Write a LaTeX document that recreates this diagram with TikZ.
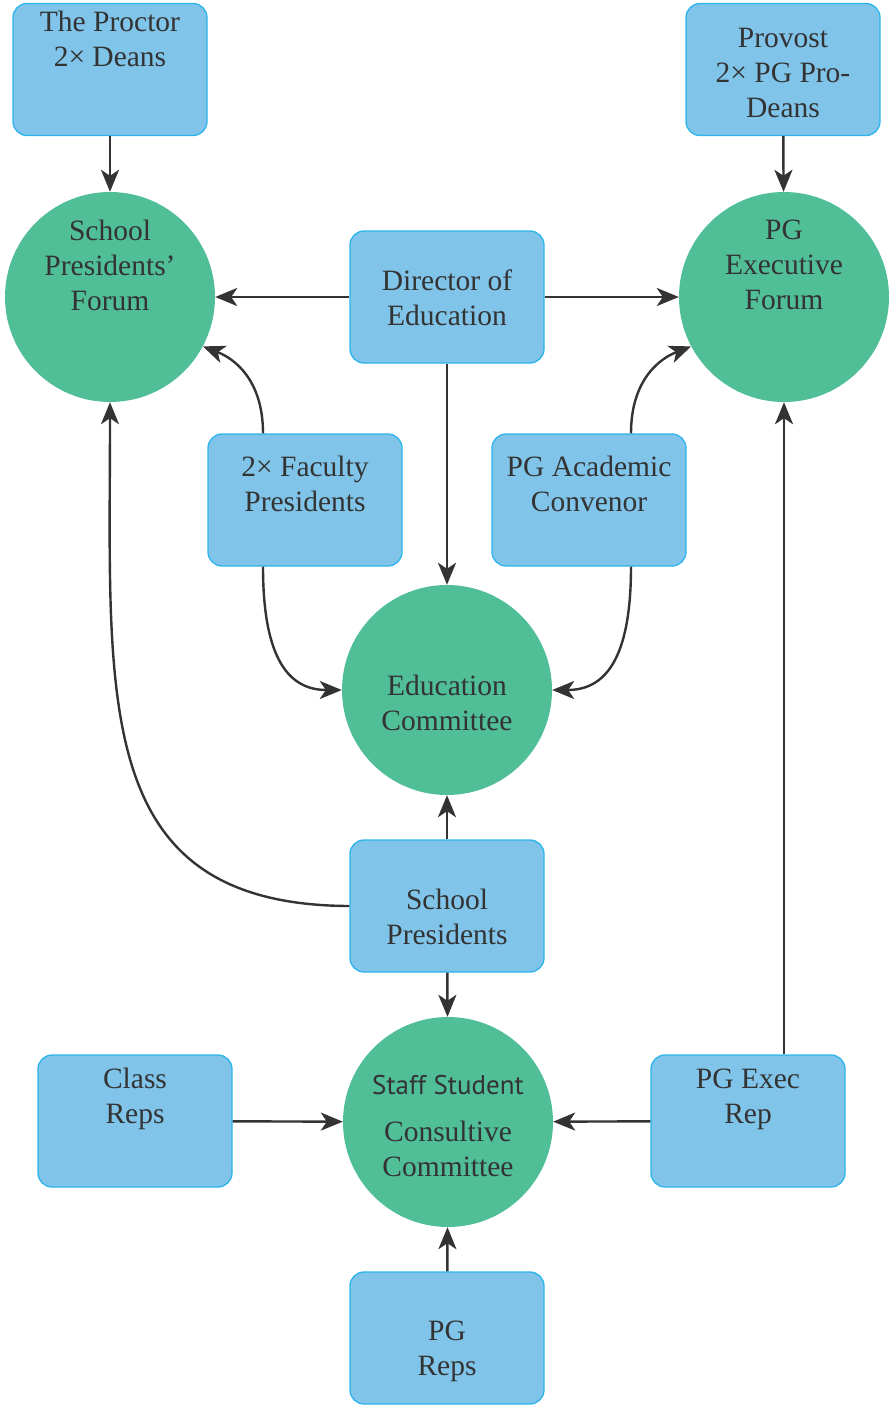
\documentclass[tikz,border=0pt]{standalone}
\usepackage{fontspec}
\setmainfont{Liberation Serif}
\newfontfamily\sansf{PT Sans}
\usetikzlibrary{arrows.meta}
\definecolor{boxfill}{HTML}{80C4E9}
\definecolor{boxline}{HTML}{2DB4EC}
\definecolor{circfill}{HTML}{50BE96}
\definecolor{ink}{HTML}{333333}
\tikzset{
  boxnode/.style={draw=boxline, line width=1.3pt, fill=boxfill, rounded corners=14pt,
    minimum width=194pt, minimum height=132pt, inner sep=0pt},
  circnode/.style={circle, fill=circfill, minimum size=210pt, inner sep=0pt},
  txt/.style={align=center, text=ink, font=\fontsize{29.5}{35}\selectfont, inner sep=0pt},
  conn/.style={draw=ink, line width=2.4pt, -{Stealth[length=22pt,width=18pt,inset=6pt]}}
}
\begin{document}
\begin{tikzpicture}[x=1pt,y=-1pt]
\useasboundingbox[fill=white] (0,0) rectangle (890,1405);
% boxes
\node[boxnode] (proctor) at (110,69.5) {};
\node[boxnode] (provost) at (783,69.5) {};
\node[boxnode] (dir) at (447,297) {};
\node[boxnode] (fac) at (305,500) {};
\node[boxnode] (pgac) at (589,500) {};
\node[boxnode] (sp) at (447,906) {};
\node[boxnode] (class) at (135,1121) {};
\node[boxnode] (pgexec) at (748,1121) {};
\node[boxnode] (pgreps) at (447,1338) {};
% circles
\node[circnode] (sforum) at (110,297) {};
\node[circnode] (pgforum) at (784,297) {};
\node[circnode] (edu) at (447,690) {};
\node[circnode] (sscc) at (448,1122) {};
% texts
\node[txt] (tproctor) at (110,38.5) {The Proctor\\2× Deans};
\node[txt] (tprovost) at (783,73) {Provost\\2× PG Pro-\\Deans};
\node[txt] (tdir) at (447,298) {Director of\\Education};
\node[txt] (tfac) at (305,484) {2× Faculty\\Presidents};
\node[txt] (tpgac) at (589,484) {PG Academic\\Convenor};
\node[txt] (tsp) at (447,917) {School\\Presidents};
\node[txt] (tclass) at (135,1099) {Class\\Reps};
\node[txt] (tpgexec) at (748,1099) {PG Exec\\Rep};
\node[txt] (tpgreps) at (447,1351) {PG\\Reps};
\node[txt] (tsforum) at (110,265) {School\\Presidents’\\Forum};
\node[txt] (tpgforum) at (784,265) {PG\\Executive\\Forum};
\node[txt] (tedu) at (447,703) {Education\\Committee};
\node[txt, font=\sansf\fontsize{27}{35}\selectfont] (tstaff) at (448,1085) {Staff Student};
\node[txt] (tcons) at (448,1149) {Consultive\\Committee};
% connectors
\draw[conn] (proctor) -- (sforum);
\draw[conn] (provost) -- (pgforum);
\draw[conn] (dir) -- (sforum);
\draw[conn] (dir) -- (pgforum);
\draw[conn] (dir) -- (edu);
\draw[conn] ([xshift=-42pt]fac.north) .. controls +(0,-54) and +(31,12) .. (sforum.-28);
\draw[conn] ([xshift=-42pt]fac.south) .. controls +(0,94) and +(-52,0) .. (edu.west);
\draw[conn] ([xshift=42pt]pgac.north) .. controls +(0,-54) and +(-31,12) .. (pgforum.208);
\draw[conn] ([xshift=42pt]pgac.south) .. controls +(0,94) and +(52,0) .. (edu.east);
\draw[conn] (sp) -- (edu);
\draw[conn] (sp.west) .. controls (90,905) and (110,700) .. (sforum.south);
\draw[conn] (sp) -- (sscc);
\draw[conn] (class) -- (sscc);
\draw[conn] (pgexec) -- (sscc);
\draw[conn] ([xshift=36pt]pgexec.north) -- (pgforum.south);
\draw[conn] (pgreps) -- (sscc);
\end{tikzpicture}
\end{document}
